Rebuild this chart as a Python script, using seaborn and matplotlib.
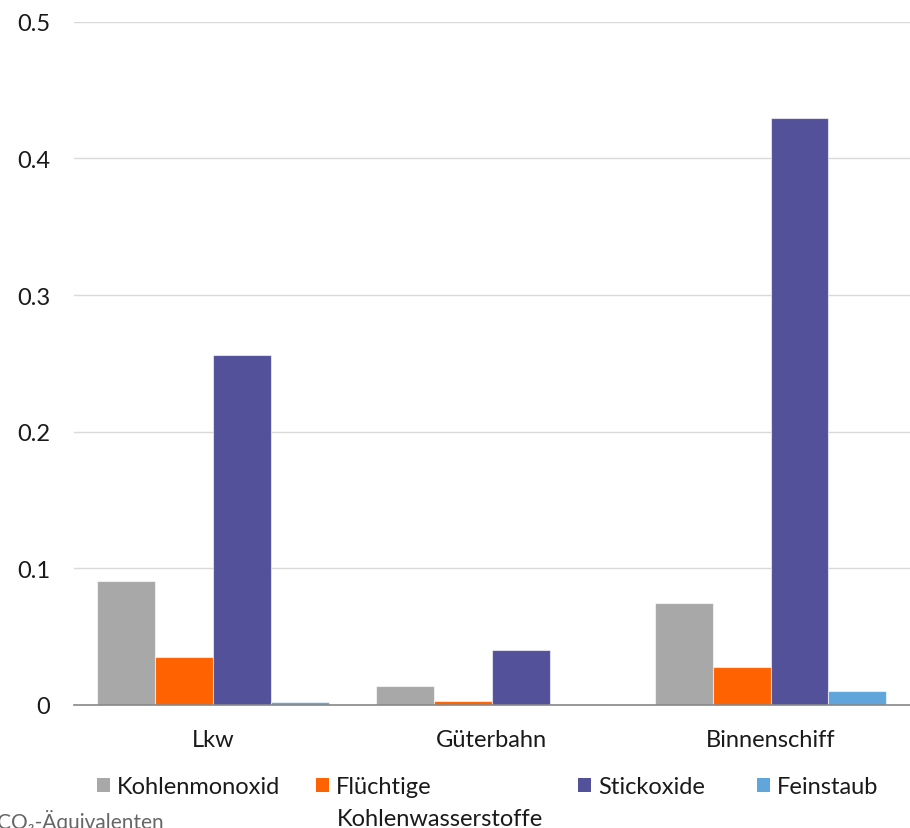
import numpy as np
import pandas as pd
import matplotlib
matplotlib.use("Agg")
import matplotlib.pyplot as plt
import seaborn as sns
from matplotlib.patches import Patch

modes = ["Lkw", "Güterbahn", "Binnenschiff"]
pollutants = ["Kohlenmonoxid", "Flüchtige\nKohlenwasserstoffe", "Stickoxide", "Feinstaub"]
kohlenmonoxid = [0.091, 0.014, 0.075]
fluechtige = [0.035, 0.003, 0.028]
stickoxide = [0.256, 0.040, 0.430]
feinstaub = [0.002, 0.0005, 0.010]
yticks = [0, 0.1, 0.2, 0.3, 0.4, 0.5]
ytick_labels = ["0", "0.1", "0.2", "0.3", "0.4", "0.5"]
colors = ["#A8A8A8", "#FF6200", "#525199", "#60A6DA"]

rows = []
for p, vals in zip(pollutants, [kohlenmonoxid, fluechtige, stickoxide, feinstaub]):
    for m, v in zip(modes, vals):
        rows.append({"mode": m, "pollutant": p, "value": v})
df = pd.DataFrame(rows)

sns.set_style("white")
plt.rcParams['font.family'] = ['Lato', 'DejaVu Sans']
plt.rcParams['font.size'] = 17

fig = plt.figure(figsize=(9.1, 8.29), dpi=100)
ax = fig.add_axes([0.081, 0.1484, 0.919, 0.824])
sns.barplot(data=df, x="mode", y="value", hue="pollutant", palette=colors,
            saturation=1, width=0.83, gap=0, legend=False, ax=ax,
            edgecolor=(1, 1, 1, 0.6), linewidth=0.8)

ax.set_xlim(-0.5, 2.5)
ax.set_ylim(0, 0.5)
ax.set_yticks(yticks)
ax.set_yticklabels(ytick_labels)
ax.set_xlabel("")
ax.set_ylabel("")
ax.grid(axis="y", color="#D9D9D9", linewidth=1)
ax.set_axisbelow(True)
for s in ["left", "right", "top"]:
    ax.spines[s].set_visible(False)
ax.spines["bottom"].set_color("#888888")
ax.spines["bottom"].set_linewidth(1.2)
ax.set_xticks([-0.5, 0.5, 1.5, 2.5], minor=True)
ax.tick_params(axis="x", which="major", length=0, pad=17, colors="#1a1a1a")
ax.tick_params(axis="x", which="minor", length=9, color="#BBBBBB", width=1)
ax.tick_params(axis="y", length=0, pad=17, colors="#1a1a1a")

# legend: one entry per box, square handle aligned with first line
leg_x = [0.1066, 0.347, 0.635, 0.832]
for i, (p, c) in enumerate(zip(pollutants, colors)):
    first = p.split("\n")[0]
    h = [Patch(facecolor=c, edgecolor="none")]
    fig.legend(h, [first], loc="center left", bbox_to_anchor=(leg_x[i], 0.0495),
               frameon=False, handlelength=0.55, handleheight=0.55,
               handletextpad=0.3, borderpad=0, borderaxespad=0,
               labelcolor="#1a1a1a")
fig.text(0.370, 0.012, pollutants[1].split("\n")[1], ha="left", va="center",
         color="#1a1a1a", fontsize=17)

fig.text(-0.003, 0.009, "CO₂-Äquivalenten", ha="left", va="center",
         color="#666666", fontsize=15)

fig.savefig("out.png", dpi=100)
